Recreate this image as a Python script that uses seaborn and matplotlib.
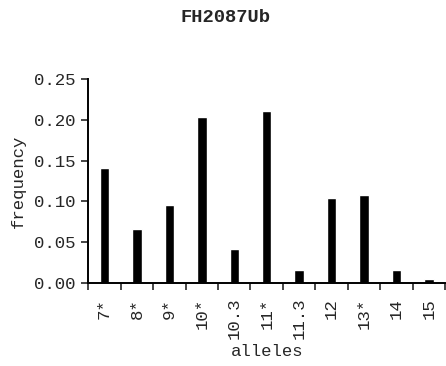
import numpy as np
import pandas as pd
import seaborn as sns
import matplotlib.pyplot as plt
from matplotlib.ticker import FixedLocator

alleles = ['7*', '8*', '9*', '10*', '10.3', '11*', '11.3', '12', '13*', '14', '15']
frequency = [0.141, 0.066, 0.096, 0.203, 0.042, 0.211, 0.016, 0.104, 0.108, 0.016, 0.005]
y_ticks = [0.00, 0.05, 0.10, 0.15, 0.20, 0.25]

sns.set_style('white')
plt.rcParams['font.family'] = ['Liberation Mono', 'DejaVu Sans Mono']

df = pd.DataFrame({'alleles': alleles, 'frequency': frequency})

fig = plt.figure(figsize=(4.46, 3.66), dpi=100)
ax = fig.add_axes([0.198, 0.2276, 0.80, 0.556])
sns.barplot(data=df, x='alleles', y='frequency', order=alleles,
            color='black', width=0.29, saturation=1, ax=ax)

ax.set_xlim(-0.5, len(alleles) - 0.5)
ax.set_ylim(0, 0.25)
ax.set_yticks(y_ticks)
ax.set_yticklabels([f'{v:.2f}' for v in y_ticks], fontsize=12.5)
ax.set_xticks(range(len(alleles)))
ax.set_xticklabels(alleles, rotation=90, fontsize=12.5)
# tick marks sit between the categories
ax.xaxis.set_minor_locator(FixedLocator(np.arange(-0.5, len(alleles), 1)))
ax.tick_params(axis='x', which='major', length=0, pad=11)
ax.tick_params(axis='x', which='minor', length=5, width=1.2, direction='out', bottom=True)
ax.tick_params(axis='y', length=5, width=1.2, direction='out', left=True, pad=4)

sns.despine(ax=ax)
for s in ['left', 'bottom']:
    ax.spines[s].set_linewidth(1.4)
    ax.spines[s].set_color('black')

ax.set_xlabel('alleles', fontsize=12.5, labelpad=3)
ax.set_ylabel('frequency', fontsize=12.5, labelpad=6)
fig.suptitle('FH2087Ub', fontsize=13.5, fontweight='bold', x=0.505, y=0.975)

fig.savefig('out.png', dpi=100)
